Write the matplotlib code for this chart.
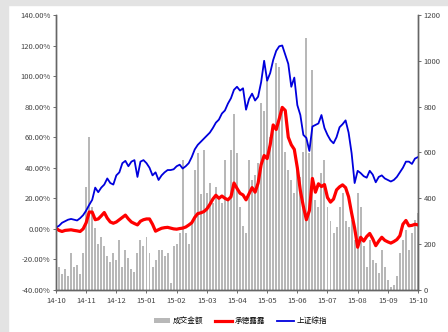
#!/usr/bin/env python3
"""Turnover bars vs. cumulative return lines, 14-10 .. 15-10."""

import numpy as np
import matplotlib

matplotlib.use("Agg")
import matplotlib.pyplot as plt
from matplotlib.patches import Rectangle

plt.rcParams["font.family"] = ["Noto Sans CJK SC", "DejaVu Sans"]

month_labels = ["14-10", "14-11", "14-12", "15-01", "15-02", "15-03", "15-04",
                "15-05", "15-06", "15-07", "15-08", "15-09", "15-10"]

# cumulative change, %, sampled every 0.1 month
index_pct = [
    1, 2, 4, 5, 6, 6.5, 6, 5.5, 7, 9,
    12, 15.7, 19, 27, 24, 27, 29, 33, 30, 29,
    35, 37, 43, 44.5, 41, 44, 45, 34, 44, 45,
    43, 40, 35, 37, 32, 35, 37, 38.5, 38.5, 39,
    41, 42, 39.5, 41, 43, 47, 52, 55, 57, 59,
    61, 63, 66, 69.5, 71.5, 75.5, 77.5, 82, 85.5, 91,
    93, 90.5, 92, 78, 85, 88.5, 84, 86.5, 96, 110,
    97, 102, 110.5, 116.5, 119.5, 120, 114, 108, 93, 99,
    81, 74.5, 61.5, 59.5, 51, 67, 68, 69, 74.5, 66,
    61.5, 58, 56, 60, 66.5, 68.5, 71, 63, 49.5, 30,
    38, 36.5, 34.5, 33.5, 38, 35.5, 30.5, 34, 35, 33,
    32, 31, 32, 34, 37, 40, 44, 44, 42.5, 46,
    47,
]

stock_pct = [
    0.5, -1, -1.7, -1, -0.8, -0.6, -1, -1.3, -1.7, 0,
    4, 11, 11, 6, 6.5, 8.5, 10.7, 7, 4.5, 3.7,
    4.5, 6, 7.5, 9, 6.5, 4.5, 3.5, 2.6, 5, 6,
    6.5, 6.5, 3, -1.5, -0.5, 0.4, 0.8, 1, 0.5, 0,
    -0.2, 0.2, 0.5, 1.2, 2.5, 4, 7.5, 10, 10.5, 11.3,
    13, 16, 19.5, 22, 20, 21.5, 20, 19, 21, 30,
    26.5, 23.3, 22.2, 19, 23, 27, 24, 30, 42, 48,
    46, 55, 68, 65, 72, 79.5, 77.5, 60, 55, 52,
    40, 25, 14.7, 6, 12, 33, 24, 29.5, 27.7, 29,
    20.5, 17.5, 19.5, 25.5, 27.5, 28.8, 27, 21, 10.3, 0.5,
    -12, -5.5, -8, -5, -3, -6.5, -11, -8, -5.5, -7.5,
    -8.5, -9.3, -8.3, -7, -4.5, 3, 5.5, 2, 2.3, 3,
    2.6,
]

turnover = [
    80, 100, 70, 90, 60, 160, 100, 110, 70, 160,
    450, 668, 363, 270, 200, 230, 190, 150, 120, 160,
    130, 220, 100, 175, 140, 90, 80, 160, 220, 190,
    233, 160, 100, 130, 175, 175, 150, 160, 30, 190,
    200, 250, 567, 250, 200, 300, 523, 596, 420, 610,
    422, 465, 380, 450, 407, 380, 567, 393, 610, 770,
    596, 360, 280, 250, 567, 480, 500, 552, 814, 780,
    916, 668, 700, 990, 975, 800, 600, 523, 480, 422,
    523, 494, 600, 1098, 596, 960, 393, 363, 509, 567,
    363, 300, 250, 276, 363, 422, 300, 276, 305, 218,
    422, 363, 190, 100, 218, 130, 116, 73, 174, 100,
    44, 15, 20, 60, 160, 218, 262, 174, 250, 305,
    334,
]


def main() -> None:
    x = np.linspace(0, len(month_labels) - 1, len(turnover))

    fig = plt.figure(figsize=(4.48, 3.32), dpi=100)
    fig.patch.set_facecolor("white")
    fig.patches.append(Rectangle((0, 0), 8 / 448, 1, transform=fig.transFigure,
                                 color="#e3e3e3", zorder=0))
    fig.patches.append(Rectangle((0, 1 - 5 / 332), 1, 5 / 332, transform=fig.transFigure,
                                 color="#e3e3e3", zorder=0))

    ax = fig.add_axes([0.125, 0.1265, 0.808, 0.8285])
    ax2 = ax.twinx()
    ax.set_zorder(ax2.get_zorder() + 1)
    ax.patch.set_visible(False)

    bars = ax2.bar(x, turnover, width=0.065, color="#b8b8b8", label="成交金额")
    l1, = ax.plot(x, stock_pct, color="#ff0000", lw=2.3, label="承德露露")
    l2, = ax.plot(x, index_pct, color="#0000dd", lw=1.3, label="上证综指")

    ax.set_xlim(0, 12)
    ax.set_ylim(-40, 140)
    ax.set_yticks(np.arange(-40, 141, 20))
    ax.set_yticklabels([f"{v:.2f}%" for v in np.arange(-40, 141, 20)])
    ax2.set_ylim(0, 1200)
    ax2.set_yticks(np.arange(0, 1201, 200))
    ax.set_xticks(np.arange(len(month_labels)))
    ax.set_xticklabels(month_labels)

    for a in (ax, ax2):
        a.tick_params(labelsize=5.5, length=2, width=0.6, color="#555555",
                      labelcolor="#444444", pad=2)
        a.spines["top"].set_visible(False)
        for s in ("left", "right", "bottom"):
            a.spines[s].set_color("#666666")
            a.spines[s].set_linewidth(1.0)
    ax.tick_params(axis="x", pad=3)

    fig.legend([bars, l1, l2], ["成交金额", "承德露露", "上证综指"],
               loc="center", bbox_to_anchor=(0.536, 0.032), ncol=3, frameon=False,
               fontsize=5.5, handlelength=2.2, handleheight=0.5, columnspacing=1.6,
               handletextpad=0.3)

    fig.savefig("out.png", dpi=100)
    plt.close(fig)


if __name__ == "__main__":
    main()
